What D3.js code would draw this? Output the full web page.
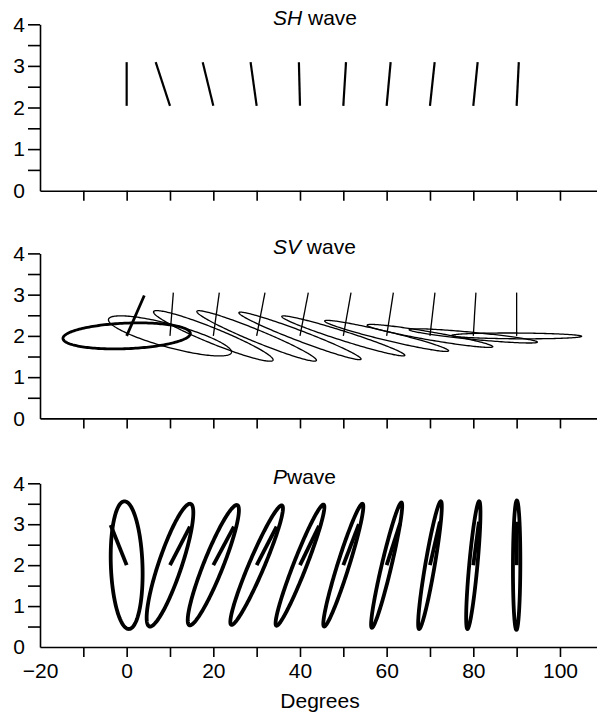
<!DOCTYPE html>
<html><head><meta charset="utf-8">
<script src="https://cdn.jsdelivr.net/npm/d3@7"></script>
<style>
html,body{margin:0;padding:0;background:#fff;}
svg{display:block;font-family:"Liberation Sans",Arial,sans-serif;}
</style></head>
<body>
<script>
// ---------- data ----------
const degrees = [0, 10, 20, 30, 40, 50, 60, 70, 80, 90];
const xTicks = [-20, -10, 0, 10, 20, 30, 40, 50, 60, 70, 80, 90, 100];
const yTicks = [0, 0.5, 1, 1.5, 2, 2.5, 3, 3.5, 4];

// SH wave: sticks from base to top (top horizontally shifted, degrees)
const shBase = 2.04;
const shTop = 3.09;
const shShift = [0, -3.3, -2.45, -1.4, -0.25, 0.62, 0.92, 1.08, 1.0, 0.5];

// SV wave: ellipses (horizontal half-amplitude deg, vertical in-phase & quadrature amplitude)
const svCenter = 2.0;
const svHx = [14.7, 14.2, 13.8, 13.8, 14.1, 14.2, 14.3, 14.5, 14.8, 15.0];
const svVc = [0.06, -0.39, -0.58, -0.59, -0.56, -0.47, -0.36, -0.26, -0.15, -0.01];
const svVq = [0.31, 0.29, 0.20, 0.16, 0.135, 0.12, 0.11, 0.10, 0.085, 0.07];
const svShift = [4.06, 0.77, 1.38, 1.92, 1.92, 1.78, 1.55, 1.15, 0.6, 0];
const svTop = [2.98, 3.05, 3.05, 3.05, 3.05, 3.05, 3.05, 3.05, 3.05, 3.05];

// P wave: ellipses (vertical half-amplitude, horizontal in-phase & quadrature deg)
const pCenter = 2.0;
const pAy = [1.56, 1.50, 1.47, 1.46, 1.48, 1.50, 1.53, 1.56, 1.56, 1.58];
const pHc = [-0.5, 4.6, 5.4, 5.77, 5.4, 4.4, 3.4, 2.5, 1.35, 0.05];
const pHq = [3.65, 2.8, 2.4, 1.9, 1.6, 1.4, 1.15, 1.1, 0.95, 0.85];
const pShift = [-3.7, 4.6, 4.75, 4.6, 4.4, 3.6, 3.1, 2.3, 1.3, 0];
const pTop = [2.98, 2.94, 2.94, 2.94, 2.96, 3.0, 3.02, 3.06, 3.06, 3.06];

// ---------- layout ----------
const W = 597, H = 717;
const svg = d3.select("body").append("svg").attr("width", W).attr("height", H);
svg.append("rect").attr("width", W).attr("height", H).attr("fill", "#fff");

const x = d3.scaleLinear().domain([-20, 110]).range([40, 603.3]);
const panels = [
  {name: "SH", rest: " wave", y: d3.scaleLinear().domain([0, 4]).range([190.7, 24.3]), labels: false},
  {name: "SV", rest: " wave", y: d3.scaleLinear().domain([0, 4]).range([418.4, 253.4]), labels: false},
  {name: "P", rest: "wave", y: d3.scaleLinear().domain([0, 4]).range([647, 483.3]), labels: true}
];

const FS = 21;
panels.forEach(p => {
  const g = svg.append("g");
  // y axis
  const ya = g.append("g").attr("transform", `translate(${x(-20)},0)`)
    .call(d3.axisLeft(p.y).tickValues(yTicks).tickSize(12).tickSizeOuter(0).tickPadding(3)
      .tickFormat(d => Number.isInteger(d) ? d : ""));
  ya.selectAll(".tick").filter(d => d === 0).select("line").remove();
  // x axis
  const xa = g.append("g").attr("transform", `translate(0,${p.y(0)})`)
    .call(d3.axisBottom(x).tickValues(xTicks).tickSize(10).tickSizeOuter(0).tickPadding(6)
      .tickFormat(d => (p.labels && d % 20 === 0) ? d3.format("")(d) : ""));
  xa.selectAll(".tick").filter(d => d === -20).select("line").remove();
  [ya, xa].forEach(a => {
    a.selectAll("path,line").attr("stroke", "#000").attr("stroke-width", 1.6);
    a.selectAll("text").attr("font-size", FS).attr("fill", "#000")
      .attr("font-family", "'Liberation Sans', Arial, sans-serif");
  });
  // title
  const t = g.append("text").attr("x", 273).attr("y", p.y(4) + 0.5)
    .attr("font-size", FS).attr("fill", "#000");
  t.append("tspan").attr("font-style", "italic").text(p.name);
  t.append("tspan").text(p.rest);
  p.g = g;
});

const line = d3.line().x(d => d[0]).y(d => d[1]);
const ts = d3.range(0, 2 * Math.PI, Math.PI / 90);

// SH
{
  const p = panels[0];
  p.g.selectAll(".sh").data(degrees).join("path")
    .attr("d", (d, i) => line([[x(d), p.y(shBase)], [x(d + shShift[i]), p.y(shTop)]]))
    .attr("stroke", "#000").attr("stroke-width", 2.2).attr("fill", "none");
}
// SV
{
  const p = panels[1];
  const ell = d3.line().curve(d3.curveLinearClosed);
  p.g.selectAll(".sve").data(degrees).join("path")
    .attr("d", (d, i) => ell(ts.map(t => [x(d + svHx[i] * Math.cos(t)),
      p.y(svCenter + svVc[i] * Math.cos(t) + svVq[i] * Math.sin(t))])))
    .attr("stroke", "#000").attr("stroke-width", (d, i) => i === 0 ? 2.8 : 1.3).attr("fill", "none");
  p.g.selectAll(".svs").data(degrees).join("path")
    .attr("d", (d, i) => line([[x(d), p.y(svCenter)], [x(d + svShift[i]), p.y(svTop[i])]]))
    .attr("stroke", "#000").attr("stroke-width", (d, i) => i === 0 ? 2.8 : 1.3).attr("fill", "none");
}
// P
{
  const p = panels[2];
  const ell = d3.line().curve(d3.curveLinearClosed);
  p.g.selectAll(".pe").data(degrees).join("path")
    .attr("d", (d, i) => ell(ts.map(t => [x(d + pHc[i] * Math.cos(t) + pHq[i] * Math.sin(t)),
      p.y(pCenter + pAy[i] * Math.cos(t))])))
    .attr("stroke", "#000").attr("stroke-width", 3.8).attr("fill", "none");
  p.g.selectAll(".ps").data(degrees).join("path")
    .attr("d", (d, i) => line([[x(d), p.y(pCenter)], [x(d + pShift[i]), p.y(pTop[i])]]))
    .attr("stroke", "#000").attr("stroke-width", 3.8).attr("fill", "none");
}

// x label
svg.append("text").attr("x", 320).attr("y", 708).attr("text-anchor", "middle")
  .attr("font-size", FS).attr("fill", "#000").text("Degrees");
</script>
</body></html>
